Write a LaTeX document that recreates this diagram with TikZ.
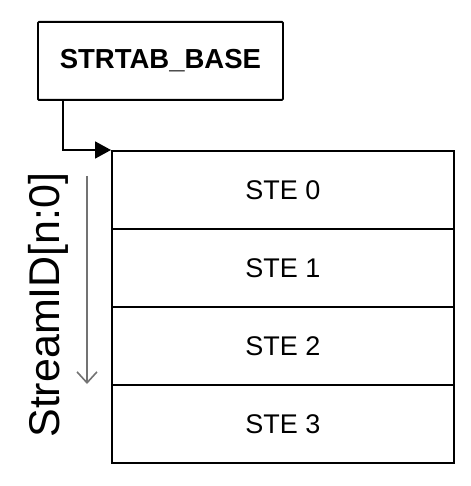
\documentclass[tikz,border=0pt]{standalone}
\usepackage{fontspec}
\setmainfont{Liberation Sans}
\usetikzlibrary{arrows.meta}
\begin{document}
\begin{tikzpicture}[x=1pt,y=-1pt,
  box/.style={draw=black,line width=1.8pt,rounded corners=1pt,inner sep=0pt,anchor=north west},
  row/.style={draw=black,line width=1.8pt,inner sep=0pt,anchor=north west,minimum width=342pt,minimum height=78pt,font=\fontsize{27}{30}\selectfont},
  conn/.style={line width=1.8pt,-{Triangle[length=16pt,width=17pt]}},
  idarrow/.style={draw=black!55,line width=1.6pt,-{Straight Barb[length=11pt,width=20pt,line width=1.6pt]}}]
\useasboundingbox (0,0) rectangle (470,486);
\node[box,minimum width=245pt,minimum height=78pt,font=\bfseries\fontsize{27.5}{30}\selectfont] (base) at (37,21) {STRTAB\_BASE};
\node[row] (ste0) at (111,150) {STE 0};
\node[row] (ste1) at (111,228) {STE 1};
\node[row] (ste2) at (111,306) {STE 2};
\node[row] (ste3) at (111,384) {STE 3};
\draw[conn] ([xshift=26pt]base.south west) |- (ste0.north west);
\coordinate (sa) at (87,176);
\coordinate (sb) at (87,384);
\draw[idarrow] (sa) -- (sb);
\node[rotate=90,font=\fontsize{43}{46}\selectfont,inner sep=0pt] (sid) at (48,305) {StreamID[n:0]};
\end{tikzpicture}
\end{document}
